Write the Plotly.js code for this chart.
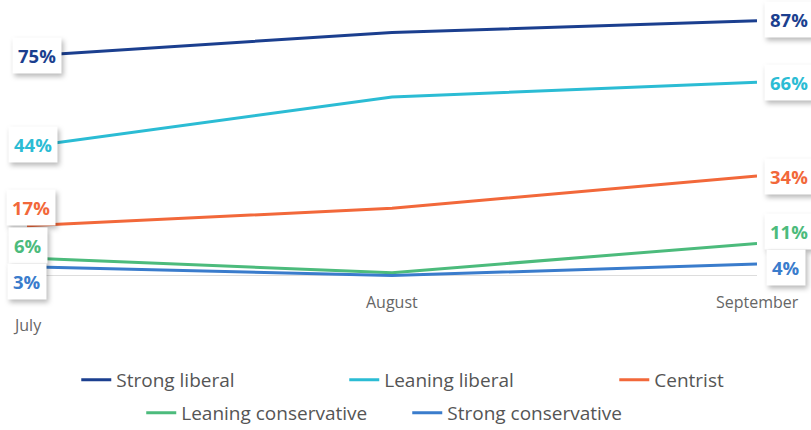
<!DOCTYPE html>
<html>
<head>
<meta charset="utf-8">
<script src="https://cdn.plot.ly/plotly-3.0.1.min.js"></script>
<style>
html,body{margin:0;padding:0;background:#fff;}
#chart{width:811px;height:430px;}
#chart .annotation rect.bg{filter:drop-shadow(2px 3px 2.5px rgba(0,0,0,0.28));}
</style>
</head>
<body>
<div id="chart"></div>
<script>
// Data
var months = ["July", "August", "September"];
var seriesNames = ["Strong liberal", "Leaning liberal", "Centrist", "Leaning conservative", "Strong conservative"];
var strongLiberal = [75, 83, 87];
var leaningLiberal = [44, 61, 66];
var centrist = [17, 23, 34];
var leaningConservative = [6, 1, 11];
var strongConservative = [3, 0, 4];

var allValues = [strongLiberal, leaningLiberal, centrist, leaningConservative, strongConservative];
var colors = ["#1b3f8f", "#2bbcd4", "#f2683a", "#4cbb7c", "#3a7ccc"];
var legendIds = ["legend", "legend2", "legend3", "legend4", "legend5"];

// label offsets (px) for end labels: [leftX, leftY, rightX, rightY]
var labelShift = [
  [10, 0, 32, 1],
  [6, 2, 32, 0],
  [4, 18, 32, 0],
  [1, 13, 32, 12],
  [0, -15, 29, -4]
];

var traces = allValues.map(function(vals, i){
  return {
    type: "scatter", mode: "lines", x: months, y: vals,
    name: seriesNames[i], legend: legendIds[i],
    line: {color: colors[i], width: 3},
    hoverinfo: "skip"
  };
});

var annotations = [];
function addLabel(xi, val, color, xs, ys){
  annotations.push({
    x: xi, y: val, xref: "x", yref: "y", text: "<b>" + val + "%</b>", showarrow: false,
    xshift: xs, yshift: ys,
    font: {family: "Open Sans", size: 18.5, color: color},
    bgcolor: "#ffffff", borderpad: 5
  });
}
allValues.forEach(function(vals, i){
  addLabel(0, vals[0], colors[i], labelShift[i][0], labelShift[i][1]);
  addLabel(2, vals[2], colors[i], labelShift[i][2], labelShift[i][3]);
});

// month labels
var monthYShift = [-45, -22, -22];
months.forEach(function(m, i){
  annotations.push({
    x: i, y: 0, xref: "x", yref: "paper", text: m, showarrow: false,
    yanchor: "middle", yshift: monthYShift[i],
    font: {family: "Open Sans", size: 16, color: "#666666"}
  });
});

function legendAt(x, y){
  return {
    orientation: "h", x: x, xanchor: "left", y: y, yanchor: "middle",
    font: {family: "Open Sans", size: 19, color: "#555555"},
    bgcolor: "rgba(0,0,0,0)"
  };
}

var layout = {
  width: 811, height: 430,
  margin: {l: 27, r: 54, t: 12, b: 150, autoexpand: false},
  paper_bgcolor: "#ffffff", plot_bgcolor: "#ffffff",
  showlegend: true,
  xaxis: {
    type: "category", range: [0, 2], showgrid: false, zeroline: false,
    showline: false, showticklabels: false, ticks: ""
  },
  yaxis: {
    range: [-1.5, 90], showgrid: false, zeroline: true, zerolinecolor: "#dddddd",
    zerolinewidth: 1, showticklabels: false, ticks: ""
  },
  legend: legendAt(0.0675, -0.373),
  legend2: legendAt(0.4346, -0.373),
  legend3: legendAt(0.8045, -0.373),
  legend4: legendAt(0.1565, -0.4963),
  legend5: legendAt(0.5209, -0.4963),
  annotations: annotations
};

Plotly.newPlot("chart", traces, layout, {displayModeBar: false, staticPlot: true});
</script>
</body>
</html>
